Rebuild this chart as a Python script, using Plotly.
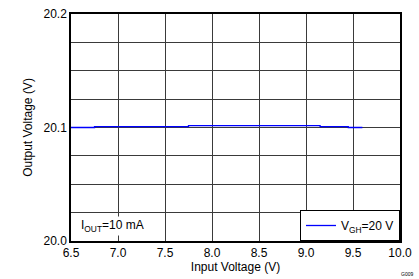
import plotly.graph_objects as go

# Data
input_voltage = [6.5, 6.75, 7.75, 9.15, 9.45, 9.6]
output_voltage = [20.1, 20.1008, 20.1017, 20.1008, 20.1, 20.1]

x_ticks = [6.5, 7.0, 7.5, 8.0, 8.5, 9.0, 9.5, 10.0]
x_tick_text = ["6.5", "7.0", "7.5", "8.0", "8.5", "9.0", "9.5", "10.0"]
y_ticks = [20.0, 20.1, 20.2]
y_tick_text = ["20.0", "20.1", "20.2"]

font_family = "Liberation Sans, Arial, sans-serif"
grid_color = "#3a3a3a"

fig = go.Figure()
fig.add_trace(go.Scatter(
    x=input_voltage, y=output_voltage, mode="lines", line_shape="hv",
    line=dict(color="#0000ff", width=1.3),
    name="V<sub>GH</sub>=20 V",
))

fig.update_layout(
    width=419, height=279,
    margin=dict(l=71, r=19, t=7, b=38),
    paper_bgcolor="white", plot_bgcolor="white",
    font=dict(family=font_family, size=12, color="black"),
    showlegend=True,
    legend=dict(
        x=1, y=0, xanchor="right", yanchor="bottom",
        bordercolor="black", borderwidth=1, bgcolor="white",
        font=dict(size=12), itemwidth=30,
        tracegroupgap=0,
    ),
    xaxis=dict(
        range=[6.5, 10.0], tickvals=x_ticks, ticktext=x_tick_text,
        showgrid=True, gridcolor=grid_color, gridwidth=1,
        showline=True, linecolor="black", linewidth=1.5, mirror=True,
        ticks="", zeroline=False,
        title=dict(text="Input Voltage (V)", standoff=2, font=dict(size=12)),
        tickfont=dict(size=12),
    ),
    yaxis=dict(
        range=[20.0, 20.2], tickvals=y_ticks, ticktext=y_tick_text,
        showgrid=True, gridcolor=grid_color, gridwidth=1,
        minor=dict(dtick=0.025, tick0=20.0, showgrid=True,
                   gridcolor=grid_color, gridwidth=1, ticks=""),
        showline=True, linecolor="black", linewidth=1.5, mirror=True,
        ticks="", zeroline=False,
        title=dict(text="Output Voltage (V)", standoff=8, font=dict(size=12)),
        tickfont=dict(size=12),
    ),
)

fig.add_annotation(
    text="I<sub>OUT</sub>=10 mA", xref="paper", yref="paper",
    x=0.025, y=0.065, xanchor="left", yanchor="middle", showarrow=False,
    font=dict(size=12), bgcolor="white",
)
fig.add_annotation(
    text="G009", xref="paper", yref="paper",
    x=1.045, y=-0.145, xanchor="right", yanchor="middle", showarrow=False,
    font=dict(size=5),
)

fig.write_html("out.html")
